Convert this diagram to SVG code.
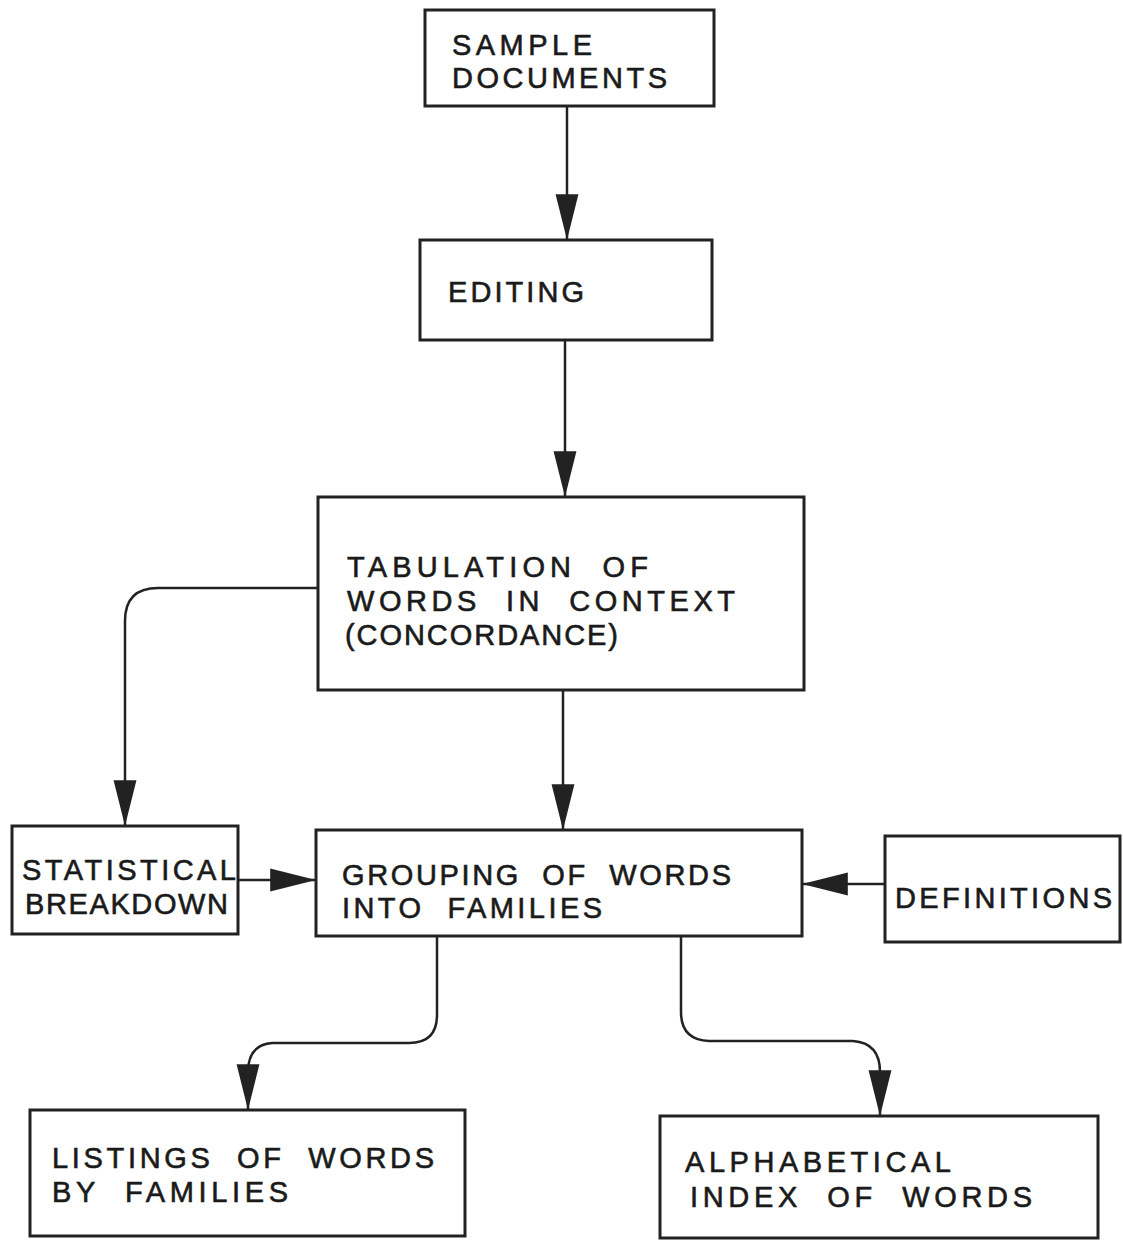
<svg xmlns="http://www.w3.org/2000/svg" width="1123" height="1240" viewBox="0 0 1123 1240">
<style>
.box{fill:#fff;stroke:#222;stroke-width:3}
.con{fill:none;stroke:#222;stroke-width:2.5}
text{font-family:"Liberation Sans","DejaVu Sans",sans-serif;font-size:29px;fill:#1a1a1a;stroke:#1a1a1a;stroke-width:0.6;white-space:pre}
</style>
<defs>
<marker id="ah" markerUnits="userSpaceOnUse" markerWidth="50" markerHeight="30" viewBox="-46 -12 48 24" refX="0" refY="0" orient="auto">
<path d="M0,0 L-44,-11 L-44,11 Z" fill="#222"/>
</marker>
</defs>
<rect width="1123" height="1240" fill="#fff"/>
<g id="connectors">
<path class="con" d="M567,106 V240" marker-end="url(#ah)"/>
<path class="con" d="M565,340 V497" marker-end="url(#ah)"/>
<path class="con" d="M318,588 H158 Q125,588 125,621 V826" marker-end="url(#ah)"/>
<path class="con" d="M563,690 V830" marker-end="url(#ah)"/>
<path class="con" d="M238,880 H316" marker-end="url(#ah)"/>
<path class="con" d="M885,884 H802" marker-end="url(#ah)"/>
<path class="con" d="M437,936 V1015 Q437,1043 409,1043 H272 Q248,1045 248,1072 V1110" marker-end="url(#ah)"/>
<path class="con" d="M681,936 V1012 Q681,1040 709,1041 H853 Q880,1043 880,1072 V1116" marker-end="url(#ah)"/>
</g>
<g id="sample-documents">
<rect class="box" x="425" y="10" width="289" height="96"/>
<text x="452" y="55" textLength="140" lengthAdjust="spacing">SAMPLE</text>
<text x="452" y="88" textLength="215" lengthAdjust="spacing">DOCUMENTS</text>
</g>
<g id="editing">
<rect class="box" x="420" y="240" width="292" height="100"/>
<text x="448" y="302" textLength="136" lengthAdjust="spacing">EDITING</text>
</g>
<g id="tabulation">
<rect class="box" x="318" y="497" width="486" height="193"/>
<text x="347" y="577" textLength="301" lengthAdjust="spacing" xml:space="preserve">TABULATION  OF</text>
<text x="347" y="611" textLength="388" lengthAdjust="spacing" xml:space="preserve">WORDS  IN  CONTEXT</text>
<text x="345" y="645" textLength="273" lengthAdjust="spacing">(CONCORDANCE)</text>
</g>
<g id="statistical-breakdown">
<rect class="box" x="12" y="826" width="226" height="108"/>
<text x="22" y="880" textLength="214" lengthAdjust="spacing">STATISTICAL</text>
<text x="25" y="914" textLength="203" lengthAdjust="spacing">BREAKDOWN</text>
</g>
<g id="grouping">
<rect class="box" x="316" y="830" width="486" height="106"/>
<text x="342" y="885" textLength="389" lengthAdjust="spacing" xml:space="preserve">GROUPING  OF  WORDS</text>
<text x="342" y="918" textLength="260" lengthAdjust="spacing" xml:space="preserve">INTO  FAMILIES</text>
</g>
<g id="definitions">
<rect class="box" x="885" y="836" width="235" height="106"/>
<text x="895" y="908" textLength="217" lengthAdjust="spacing">DEFINITIONS</text>
</g>
<g id="listings">
<rect class="box" x="30" y="1110" width="435" height="126"/>
<text x="52" y="1168" textLength="382" lengthAdjust="spacing" xml:space="preserve">LISTINGS  OF  WORDS</text>
<text x="52" y="1202" textLength="236" lengthAdjust="spacing" xml:space="preserve">BY  FAMILIES</text>
</g>
<g id="alphabetical-index">
<rect class="box" x="660" y="1116" width="438" height="122"/>
<text x="685" y="1172" textLength="266" lengthAdjust="spacing">ALPHABETICAL</text>
<text x="690" y="1207" textLength="342" lengthAdjust="spacing" xml:space="preserve">INDEX  OF  WORDS</text>
</g>
</svg>
